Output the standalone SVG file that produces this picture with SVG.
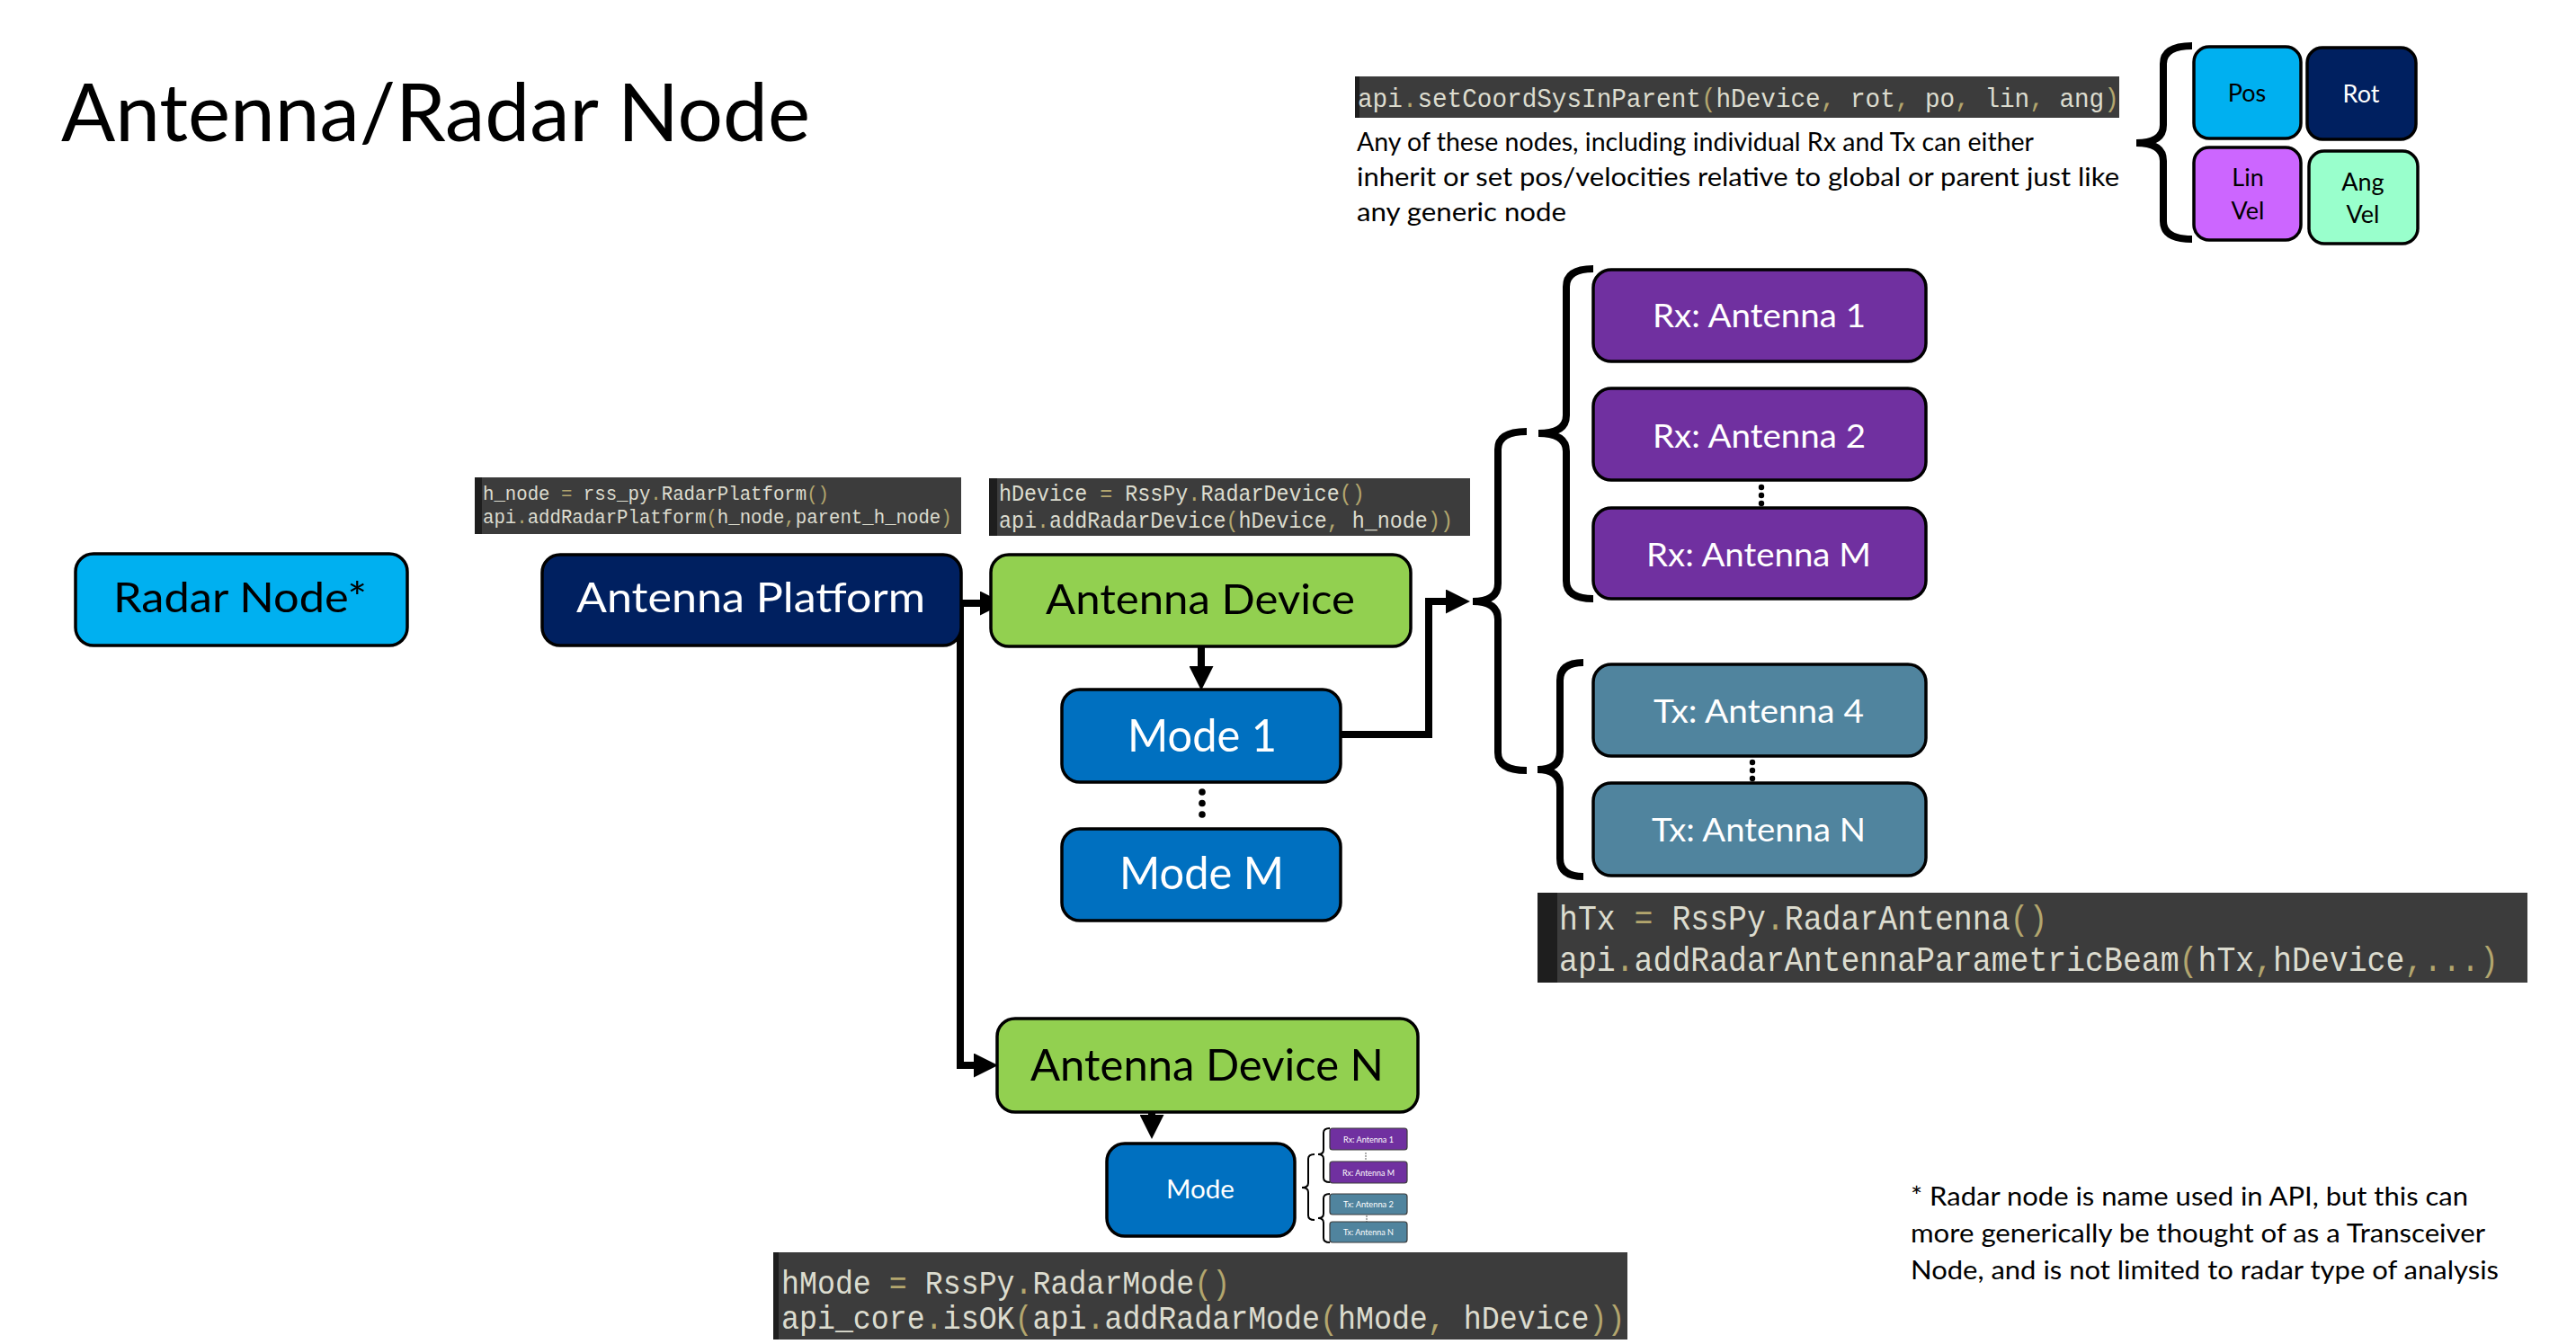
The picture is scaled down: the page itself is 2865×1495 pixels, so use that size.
<svg xmlns="http://www.w3.org/2000/svg" width="2865" height="1495" viewBox="0 0 2865 1495">
<style>
.lbl{font-family:Lato,"Open Sans","Liberation Sans",sans-serif;}
.code{font-family:"Liberation Mono","DejaVu Sans Mono",monospace;fill:#DCDCCF;}
.p{fill:#B3A66E;}
.box{stroke:#000;stroke-width:3.5;}
.mini{stroke:#3a3a3a;stroke-width:1.2;}
.conn{fill:none;stroke:#000;stroke-width:8;stroke-linejoin:miter;}
.brace{fill:none;stroke:#000;stroke-width:8;stroke-linecap:butt;}
.mbrace{fill:none;stroke:#000;stroke-width:2;}
.cbg{fill:#3C3C3C;}
.cbar{fill:#1E1E1E;}
</style>
<defs>
<marker id="ah" markerUnits="userSpaceOnUse" markerWidth="27" markerHeight="27" viewBox="0 0 26 26" refX="0" refY="13" orient="auto">
<path d="M0,0 L26,13 L0,26 z" fill="#000"/>
</marker>
</defs>
<rect width="2865" height="1495" fill="#fff"/>

<text class="lbl" x="68" y="157" font-size="90" textLength="833" lengthAdjust="spacingAndGlyphs">Antenna/Radar Node</text>

<!-- code snippets -->
<g id="code-platform">
<rect class="cbg" x="528" y="531" width="541" height="63"/>
<rect class="cbar" x="528" y="531" width="8" height="63"/>
<text class="code" transform="translate(537,556) scale(0.9167,1)" font-size="22.6">h_node <tspan class="p">=</tspan> rss_py<tspan class="p">.</tspan>RadarPlatform<tspan class="p">()</tspan></text>
<text class="code" transform="translate(537,582) scale(0.9167,1)" font-size="22.6">api<tspan class="p">.</tspan>addRadarPlatform<tspan class="p">(</tspan>h_node<tspan class="p">,</tspan>parent_h_node<tspan class="p">)</tspan></text>
</g>
<g id="code-device">
<rect class="cbg" x="1100" y="532" width="535" height="64"/>
<rect class="cbar" x="1100" y="532" width="9" height="64"/>
<text class="code" transform="translate(1111,557) scale(0.9167,1)" font-size="25.5">hDevice <tspan class="p">=</tspan> RssPy<tspan class="p">.</tspan>RadarDevice<tspan class="p">()</tspan></text>
<text class="code" transform="translate(1111,587) scale(0.9167,1)" font-size="25.5">api<tspan class="p">.</tspan>addRadarDevice<tspan class="p">(</tspan>hDevice<tspan class="p">,</tspan> h_node<tspan class="p">))</tspan></text>
</g>
<g id="code-coordsys">
<rect class="cbg" x="1507" y="85" width="850" height="46"/>
<rect class="cbar" x="1507" y="85" width="5" height="46"/>
<text class="code" transform="translate(1510,119) scale(0.9167,1)" font-size="30.2">api<tspan class="p">.</tspan>setCoordSysInParent<tspan class="p">(</tspan>hDevice<tspan class="p">,</tspan> rot<tspan class="p">,</tspan> po<tspan class="p">,</tspan> lin<tspan class="p">,</tspan> ang<tspan class="p">)</tspan></text>
</g>
<g id="code-antenna">
<rect class="cbg" x="1710" y="993" width="1101" height="100"/>
<rect class="cbar" x="1710" y="993" width="22" height="100"/>
<text class="code" transform="translate(1734,1034) scale(0.9167,1)" font-size="38">hTx <tspan class="p">=</tspan> RssPy<tspan class="p">.</tspan>RadarAntenna<tspan class="p">()</tspan></text>
<text class="code" transform="translate(1734,1080) scale(0.9167,1)" font-size="38">api<tspan class="p">.</tspan>addRadarAntennaParametricBeam<tspan class="p">(</tspan>hTx<tspan class="p">,</tspan>hDevice<tspan class="p">,...)</tspan></text>
</g>
<g id="code-mode">
<rect class="cbg" x="860" y="1393" width="950" height="97"/>
<rect class="cbar" x="860" y="1393" width="6" height="97"/>
<text class="code" transform="translate(869,1439) scale(0.9167,1)" font-size="36.3">hMode <tspan class="p">=</tspan> RssPy<tspan class="p">.</tspan>RadarMode<tspan class="p">()</tspan></text>
<text class="code" transform="translate(869,1478) scale(0.9167,1)" font-size="36.3">api_core<tspan class="p">.</tspan>isOK<tspan class="p">(</tspan>api<tspan class="p">.</tspan>addRadarMode<tspan class="p">(</tspan>hMode<tspan class="p">,</tspan> hDevice<tspan class="p">))</tspan></text>
</g>

<!-- description texts -->
<g id="desc">
<text class="lbl" x="1509" y="168" font-size="29" textLength="753" lengthAdjust="spacingAndGlyphs">Any of these nodes, including individual Rx and Tx can either</text>
<text class="lbl" x="1509" y="207" font-size="29" textLength="848" lengthAdjust="spacingAndGlyphs">inherit or set pos/velocities relative to global or parent just like</text>
<text class="lbl" x="1509" y="246" font-size="29" textLength="233" lengthAdjust="spacingAndGlyphs">any generic node</text>
</g>
<g id="note">
<text class="lbl" x="2125" y="1341" font-size="29" textLength="620" lengthAdjust="spacingAndGlyphs">* Radar node is name used in API, but this can</text>
<text class="lbl" x="2125" y="1382" font-size="29" textLength="639" lengthAdjust="spacingAndGlyphs">more generically be thought of as a Transceiver</text>
<text class="lbl" x="2125" y="1423" font-size="29" textLength="654" lengthAdjust="spacingAndGlyphs">Node, and is not limited to radar type of analysis</text>
</g>

<!-- connectors -->
<g id="connectors">
<path class="conn" d="M1068,671 H1090" marker-end="url(#ah)"/>
<path class="conn" d="M1068,667 V1185 H1083" marker-end="url(#ah)"/>
<path class="conn" d="M1336,719 V741" marker-end="url(#ah)"/>
<path class="conn" d="M1491,817 H1589 V669 H1608" marker-end="url(#ah)"/>
<path class="conn" d="M1281,1217 V1240" marker-end="url(#ah)"/>
<path class="brace" d="M1698,480 Q1666,480 1666,500 V649 Q1666,669 1638,669 Q1666,669 1666,689 V837 Q1666,857 1698,857"/>
<path class="brace" d="M1772,299 Q1742,299 1742,319 V462 Q1742,482 1711,482 Q1742,482 1742,502 V646 Q1742,666 1772,666"/>
<path class="brace" d="M1761,737 Q1735,737 1735,757 V836 Q1735,856 1710,856 Q1735,856 1735,876 V955 Q1735,975 1761,975"/>
<path class="brace" stroke-width="7" d="M2438,51 Q2406,51 2406,71 V139 Q2406,159 2376,159 Q2406,159 2406,179 V246 Q2406,266 2438,266"/>
<path class="mbrace" d="M1479,1255 Q1472,1255 1472,1260 V1279 Q1472,1284 1466,1284 Q1472,1284 1472,1289 V1310 Q1472,1315 1479,1315"/>
<path class="mbrace" d="M1479,1328 Q1472,1328 1472,1333 V1350 Q1472,1355 1466,1355 Q1472,1355 1472,1360 V1377 Q1472,1382 1479,1382"/>
<path class="mbrace" d="M1462,1284 Q1455,1284 1455,1289 V1316 Q1455,1321 1448,1321 Q1455,1321 1455,1326 V1352 Q1455,1357 1462,1357"/>
<g fill="#000">
<circle cx="1337" cy="881" r="3.8"/><circle cx="1337" cy="893.5" r="3.8"/><circle cx="1337" cy="906" r="3.8"/>
<circle cx="1959" cy="542" r="3.2"/><circle cx="1959" cy="551" r="3.2"/><circle cx="1959" cy="560" r="3.2"/>
<circle cx="1949" cy="848" r="3.2"/><circle cx="1949" cy="857" r="3.2"/><circle cx="1949" cy="866" r="3.2"/>
</g>
<g fill="#888">
<circle cx="1519" cy="1283" r="0.9"/><circle cx="1519" cy="1286" r="0.9"/><circle cx="1519" cy="1289" r="0.9"/>
<circle cx="1520" cy="1353" r="0.9"/><circle cx="1520" cy="1356" r="0.9"/><circle cx="1520" cy="1359" r="0.9"/>
</g>
</g>

<!-- nodes -->
<g id="radar-node">
<rect class="box" x="84" y="616" width="369" height="102" rx="20" fill="#00B0F0"/>
<text class="lbl" x="126" y="681" font-size="47" textLength="282" lengthAdjust="spacingAndGlyphs">Radar Node*</text>
</g>
<g id="antenna-platform">
<rect class="box" x="603" y="617" width="466" height="101" rx="20" fill="#002060"/>
<text class="lbl" x="641" y="681" font-size="47" fill="#fff" textLength="388" lengthAdjust="spacingAndGlyphs">Antenna Platform</text>
</g>
<g id="antenna-device">
<rect class="box" x="1102" y="617" width="467" height="102" rx="20" fill="#92D050"/>
<text class="lbl" x="1163" y="683" font-size="47" textLength="344" lengthAdjust="spacingAndGlyphs">Antenna Device</text>
</g>
<g id="mode-1">
<rect class="box" x="1181" y="767" width="310" height="103" rx="20" fill="#0070C0"/>
<text class="lbl" x="1254" y="836" font-size="50" fill="#fff" textLength="166" lengthAdjust="spacingAndGlyphs">Mode 1</text>
</g>
<g id="mode-m">
<rect class="box" x="1181" y="922" width="310" height="102" rx="20" fill="#0070C0"/>
<text class="lbl" x="1245" y="989" font-size="50" fill="#fff" textLength="183" lengthAdjust="spacingAndGlyphs">Mode M</text>
</g>
<g id="antenna-device-n">
<rect class="box" x="1109" y="1133" width="468" height="104" rx="20" fill="#92D050"/>
<text class="lbl" x="1146" y="1202" font-size="48" textLength="393" lengthAdjust="spacingAndGlyphs">Antenna Device N</text>
</g>
<g id="mode">
<rect class="box" x="1231" y="1272" width="209" height="103" rx="20" fill="#0070C0"/>
<text class="lbl" x="1297" y="1333" font-size="29" fill="#fff" textLength="76" lengthAdjust="spacingAndGlyphs">Mode</text>
</g>
<g id="mini-antennas" class="lbl" font-size="9.5" fill="#fff" text-anchor="middle">
<rect class="mini" x="1479" y="1255" width="86" height="24" rx="3" fill="#7030A0"/>
<text x="1522" y="1271" textLength="56" lengthAdjust="spacingAndGlyphs">Rx: Antenna 1</text>
<rect class="mini" x="1479" y="1292" width="86" height="24" rx="3" fill="#7030A0"/>
<text x="1522" y="1308" textLength="58" lengthAdjust="spacingAndGlyphs">Rx: Antenna M</text>
<rect class="mini" x="1479" y="1328" width="86" height="23" rx="3" fill="#50849E"/>
<text x="1522" y="1343" textLength="56" lengthAdjust="spacingAndGlyphs">Tx: Antenna 2</text>
<rect class="mini" x="1479" y="1359" width="86" height="23" rx="3" fill="#50849E"/>
<text x="1522" y="1374" textLength="56" lengthAdjust="spacingAndGlyphs">Tx: Antenna N</text>
</g>
<g id="rx-antenna-1">
<rect class="box" x="1772" y="300" width="370" height="102" rx="20" fill="#7030A0"/>
<text class="lbl" x="1838" y="364" font-size="37" fill="#fff" textLength="237" lengthAdjust="spacingAndGlyphs">Rx: Antenna 1</text>
</g>
<g id="rx-antenna-2">
<rect class="box" x="1772" y="432" width="370" height="102" rx="20" fill="#7030A0"/>
<text class="lbl" x="1838" y="498" font-size="37" fill="#fff" textLength="237" lengthAdjust="spacingAndGlyphs">Rx: Antenna 2</text>
</g>
<g id="rx-antenna-m">
<rect class="box" x="1772" y="565" width="370" height="101" rx="20" fill="#7030A0"/>
<text class="lbl" x="1831" y="630" font-size="37" fill="#fff" textLength="250" lengthAdjust="spacingAndGlyphs">Rx: Antenna M</text>
</g>
<g id="tx-antenna-4">
<rect class="box" x="1772" y="739" width="370" height="102" rx="20" fill="#50849E"/>
<text class="lbl" x="1839" y="804" font-size="37" fill="#fff" textLength="234" lengthAdjust="spacingAndGlyphs">Tx: Antenna 4</text>
</g>
<g id="tx-antenna-n">
<rect class="box" x="1772" y="871" width="370" height="103" rx="20" fill="#50849E"/>
<text class="lbl" x="1837" y="936" font-size="37" fill="#fff" textLength="238" lengthAdjust="spacingAndGlyphs">Tx: Antenna N</text>
</g>
<g id="pos">
<rect class="box" stroke-width="3" x="2440" y="52" width="119" height="102" rx="17" fill="#00B0F0"/>
<text class="lbl" x="2499" y="113" font-size="27" text-anchor="middle">Pos</text>
</g>
<g id="rot">
<rect class="box" stroke-width="3" x="2566" y="53" width="121" height="102" rx="17" fill="#002060"/>
<text class="lbl" x="2626" y="114" font-size="27" fill="#fff" text-anchor="middle">Rot</text>
</g>
<g id="lin-vel">
<rect class="box" stroke-width="3" x="2440" y="164" width="119" height="103" rx="17" fill="#CC66FF"/>
<text class="lbl" x="2500" y="207" font-size="27" text-anchor="middle">Lin</text>
<text class="lbl" x="2500" y="244" font-size="27" text-anchor="middle">Vel</text>
</g>
<g id="ang-vel">
<rect class="box" stroke-width="3" x="2568" y="168" width="121" height="103" rx="17" fill="#99FFCC"/>
<text class="lbl" x="2628" y="212" font-size="27" text-anchor="middle">Ang</text>
<text class="lbl" x="2628" y="248" font-size="27" text-anchor="middle">Vel</text>
</g>
</svg>
